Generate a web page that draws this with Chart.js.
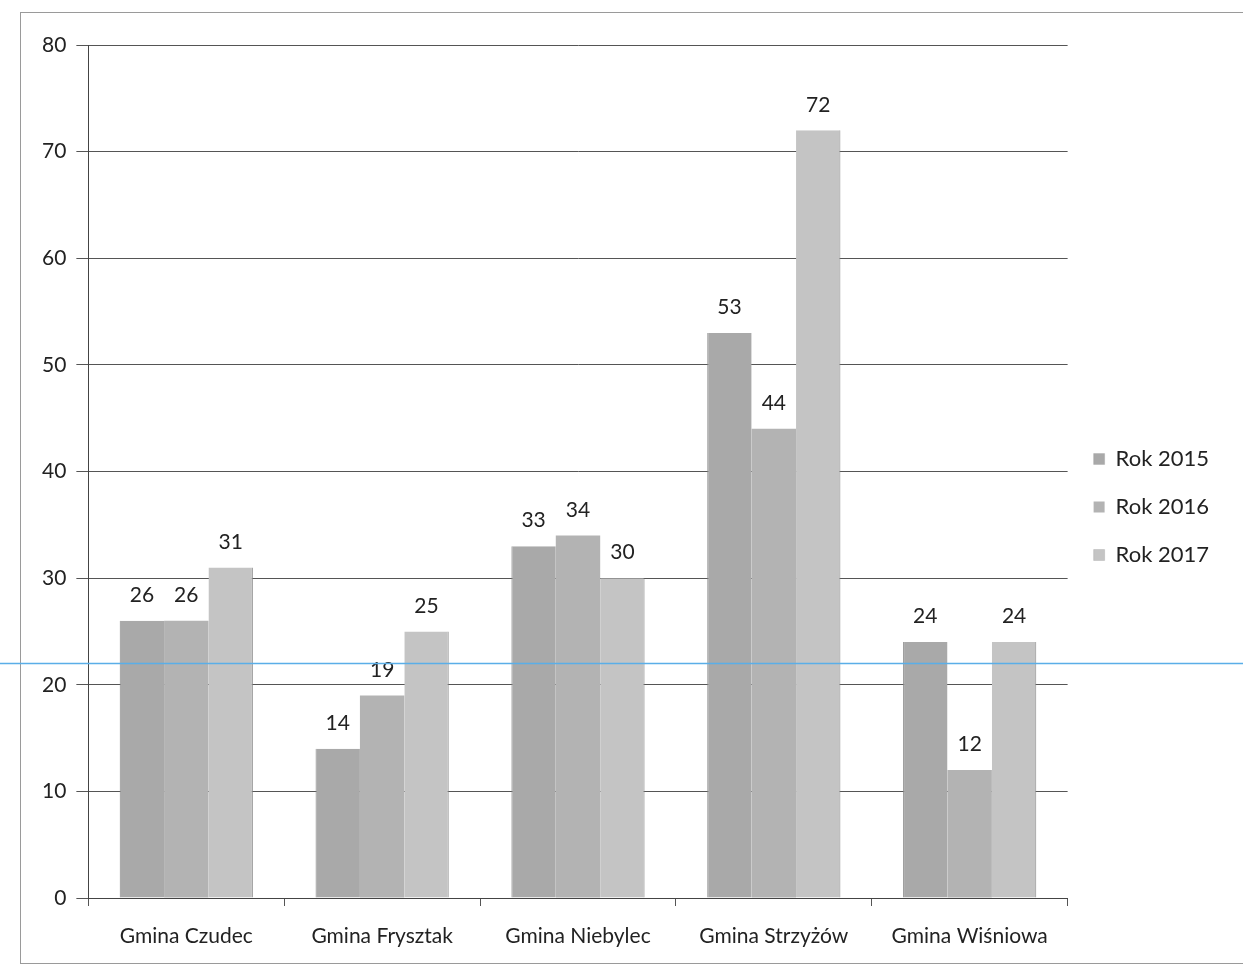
<!DOCTYPE html>
<html>
<head>
<meta charset="utf-8">
<script src="https://cdn.jsdelivr.net/npm/chart.js@4.4.0/dist/chart.umd.min.js"></script>
<style>
  body { margin: 0; background: #fff; }
  #frame { position: absolute; left: 20px; top: 12px; width: 1240px; height: 952px; border: 1px solid #9a9a9a; border-right: none; box-sizing: border-box; }
  #wrap { position: absolute; left: 0; top: 0; width: 1243px; height: 969px; }
</style>
</head>
<body>
<div id="frame"></div>
<div id="wrap"><canvas id="chart"></canvas></div>
<script>
const categories = ['Gmina Czudec', 'Gmina Frysztak', 'Gmina Niebylec', 'Gmina Strzyżów', 'Gmina Wiśniowa'];
const seriesNames = ['Rok 2015', 'Rok 2016', 'Rok 2017'];
const rok2015 = [26, 14, 33, 53, 24];
const rok2016 = [26, 19, 34, 44, 12];
const rok2017 = [31, 25, 30, 72, 24];
const yTicks = [0, 10, 20, 30, 40, 50, 60, 70, 80];
const colors = ['#a9a9a9', '#b3b3b3', '#c4c4c4'];

const font = "Lato, 'Open Sans', sans-serif";

// value labels above each bar
const valueLabels = {
    id: 'valueLabels',
    afterDatasetsDraw(chart) {
        const ctx = chart.ctx;
        ctx.save();
        ctx.font = '21px ' + font;
        ctx.fillStyle = '#222';
        ctx.textAlign = 'center';
        ctx.textBaseline = 'bottom';
        chart.data.datasets.forEach((ds, i) => {
            chart.getDatasetMeta(i).data.forEach((bar, j) => {
                ctx.fillText(ds.data[j], bar.x, bar.y - 15);
            });
        });
        ctx.restore();
    }
};

// thin blue scan guide line
const guideLine = {
    id: 'guideLine',
    afterDraw(chart) {
        const y = chart.scales.y.getPixelForValue(22);
        const ctx = chart.ctx;
        ctx.save();
        ctx.strokeStyle = '#5aaee8';
        ctx.lineWidth = 1.5;
        ctx.beginPath();
        ctx.moveTo(0, y);
        ctx.lineTo(chart.width, y);
        ctx.stroke();
        ctx.restore();
    }
};

new Chart(document.getElementById('chart'), {
    type: 'bar',
    data: {
        labels: categories,
        datasets: [
            { label: seriesNames[0], data: rok2015, backgroundColor: colors[0], borderColor: '#8a8a8a', borderWidth: { left: 1, right: 0, top: 0, bottom: 0 } },
            { label: seriesNames[1], data: rok2016, backgroundColor: colors[1] },
            { label: seriesNames[2], data: rok2017, backgroundColor: colors[2], borderColor: '#8a8a8a', borderWidth: { left: 0, right: 1, top: 0, bottom: 0 } }
        ]
    },
    options: {
        responsive: true,
        maintainAspectRatio: false,
        animation: false,
        devicePixelRatio: 1,
        categoryPercentage: 0.68,
        barPercentage: 1.0,
        layout: { padding: { left: 32, top: 45, right: 24, bottom: 0 } },
        scales: {
            x: {
                afterFit(axis) { axis.height = 71; },
                grid: { display: true, offset: true, drawOnChartArea: false, color: '#555', tickLength: 8 },
                border: { color: '#444' },
                ticks: { color: '#222', font: { family: font, size: 21 }, padding: 18 }
            },
            y: {
                min: 0,
                max: 80,
                afterBuildTicks(axis) { axis.ticks = yTicks.map(v => ({ value: v })); },
                grid: { color: '#555', tickLength: 12 },
                border: { color: '#444' },
                ticks: { color: '#222', font: { family: font, size: 21 }, padding: 10 }
            }
        },
        plugins: {
            legend: {
                position: 'right',
                align: 'center',
                labels: {
                    color: '#222',
                    font: { family: font, size: 22 },
                    boxWidth: 11,
                    boxHeight: 11,
                    padding: 26
                }
            },
            tooltip: { enabled: false }
        }
    },
    plugins: [valueLabels, guideLine]
});
</script>
</body>
</html>
